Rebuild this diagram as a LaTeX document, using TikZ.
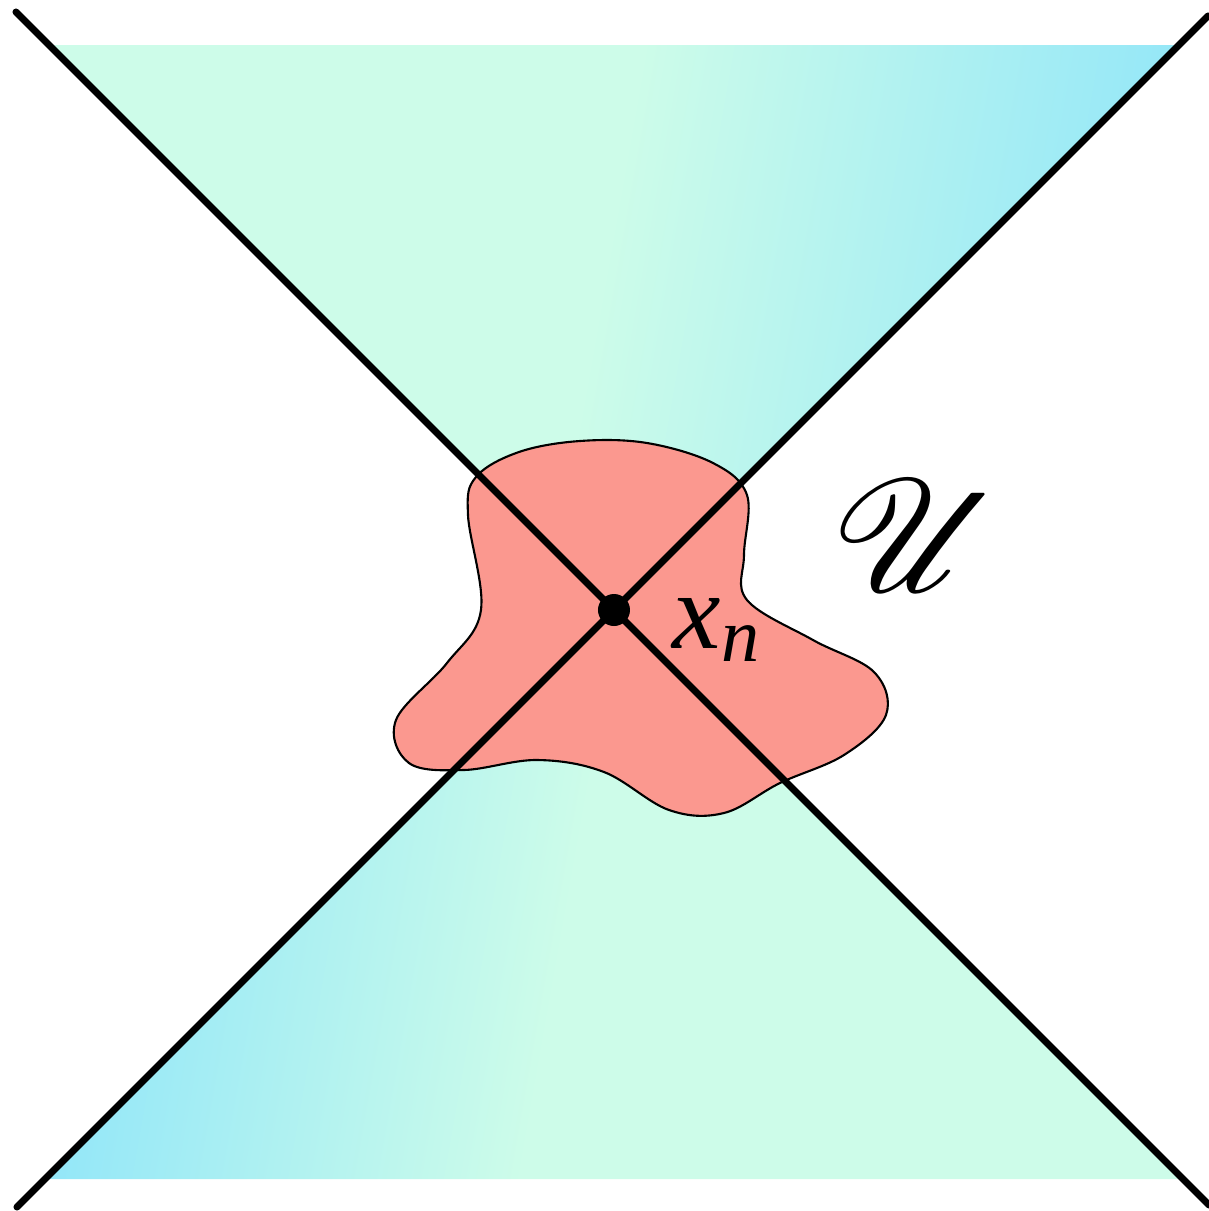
\documentclass[tikz,border=0pt]{standalone}
\usepackage{amsmath,amssymb}
\usepackage{mathrsfs}
\usepackage{fontspec}
\newfontfamily\labelfont{Liberation Serif}
\usepackage{tikz}
\usetikzlibrary{calc}
\usepackage{xcolor}
\definecolor{conemint}{RGB}{205,252,233}
\definecolor{conesky}{RGB}{148,231,248}
\definecolor{blobred}{RGB}{251,152,143}
\pgfdeclarehorizontalshading{uppercone}{100bp}{color(0bp)=(conemint); color(49bp)=(conemint); color(75bp)=(conesky); color(100bp)=(conesky)}
\pgfdeclarehorizontalshading{lowercone}{100bp}{color(0bp)=(conesky); color(26bp)=(conesky); color(48bp)=(conemint); color(100bp)=(conemint)}

\begin{document}
\begin{tikzpicture}[
    cone/.style={draw=none, shading angle=-10},
    blob/.style={draw=black, line width=0.6pt, fill=blobred},
    nullline/.style={line width=2pt, black, line cap=round}
]
    \useasboundingbox (-6.14,-6.01) rectangle (5.95,6.10);

    % Light cones
    \shade[cone, shading=uppercone] (0,0) -- (-5.65,5.65) -- (5.65,5.65) -- cycle;
    \shade[cone, shading=lowercone] (0,0) -- (-5.69,-5.69) -- (5.69,-5.69) -- cycle;

    % Neighbourhood
    \draw[blob] plot[smooth cycle, tension=0.6] coordinates {
        (-1.38,1.33) (-0.95,1.58) (-0.34,1.69) (0.33,1.67) (0.99,1.47) (1.33,1.15)
        (1.30,0.55) (1.33,0.10) (1.99,-0.30) (2.60,-0.62) (2.72,-1.05)
        (2.30,-1.45) (1.66,-1.73) (1.10,-2.03) (0.55,-2.00) (-0.10,-1.62)
        (-0.77,-1.50) (-1.50,-1.60) (-2.05,-1.53) (-2.18,-1.10) (-1.67,-0.53)
        (-1.33,0.0) (-1.46,0.95)};

    % Null lines through the point
    \coordinate (xn) at (0,0);
    \coordinate (tl) at (-5.98,5.98);
    \coordinate (br) at (5.95,-5.95);
    \coordinate (bl) at (-5.97,-5.97);
    \coordinate (tr) at (5.94,5.94);
    \draw[nullline] (tl) -- (xn) -- (br);
    \draw[nullline] (bl) -- (xn) -- (tr);

    \fill[black] (xn) circle (0.16);
    \node[font=\fontsize{31}{36}\labelfont\itshape] (xnlabel) at (1.03,-0.2) {x\textsubscript{n}};
    \node[font=\Huge] (ulabel) at (3.03,0.74) {\scalebox{1.82}{$\mathscr{U}$}};
\end{tikzpicture}
\end{document}
